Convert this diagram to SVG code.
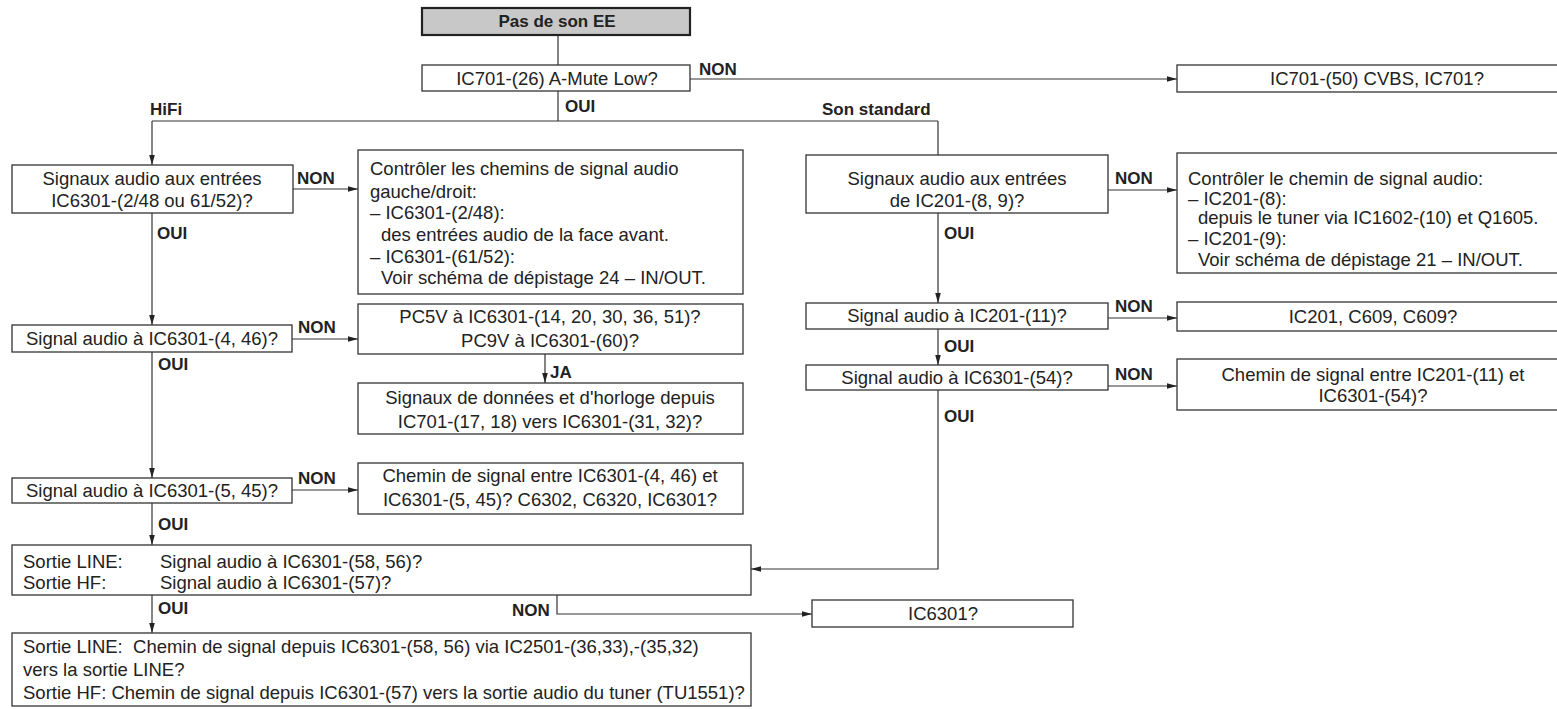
<svg xmlns="http://www.w3.org/2000/svg" width="1557" height="709" viewBox="0 0 1557 709">
<style>
.box{fill:#fff;stroke:#333;stroke-width:1.3}
.start{fill:#c8c8c8;stroke:#222;stroke-width:2.2}
.t{font-family:"Liberation Sans",Arial,sans-serif;font-size:18.5px;fill:#222}
.c{text-anchor:middle}
.b{font-weight:bold;font-size:17px}
.ln{fill:none;stroke:#333;stroke-width:1.2}
</style>
<defs>
<marker id="ah" markerWidth="10" markerHeight="8" refX="10" refY="4" orient="auto" markerUnits="userSpaceOnUse">
<path d="M0,1.2 L10,4 L0,6.8 Z" fill="#222"/>
</marker>
</defs>
<rect width="1557" height="709" fill="#fff"/>

<g id="connectors">
<path class="ln" d="M558,35 V65"/>
<path class="ln" d="M690,79 H1177" marker-end="url(#ah)"/>
<path class="ln" d="M558,91 V121"/>
<path class="ln" d="M152,121 H938"/>
<path class="ln" d="M152,121 V165" marker-end="url(#ah)"/>
<path class="ln" d="M938,121 V155"/>
<path class="ln" d="M293,189 H358" marker-end="url(#ah)"/>
<path class="ln" d="M152,213 V325" marker-end="url(#ah)"/>
<path class="ln" d="M292,339 H358" marker-end="url(#ah)"/>
<path class="ln" d="M545,354 V383" marker-end="url(#ah)"/>
<path class="ln" d="M152,352 V478" marker-end="url(#ah)"/>
<path class="ln" d="M292,490 H358" marker-end="url(#ah)"/>
<path class="ln" d="M152,503 V545" marker-end="url(#ah)"/>
<path class="ln" d="M152,595 V633" marker-end="url(#ah)"/>
<path class="ln" d="M557,595 V614 H812" marker-end="url(#ah)"/>
<path class="ln" d="M1108,190 H1177" marker-end="url(#ah)"/>
<path class="ln" d="M938,213 V303" marker-end="url(#ah)"/>
<path class="ln" d="M1108,318 H1177" marker-end="url(#ah)"/>
<path class="ln" d="M938,329 V365" marker-end="url(#ah)"/>
<path class="ln" d="M1108,386 H1177" marker-end="url(#ah)"/>
<path class="ln" d="M938,390 V569 H751" marker-end="url(#ah)"/>
<text class="t b" x="699" y="75">NON</text>
<text class="t b" x="565" y="112">OUI</text>
<text class="t b" x="150" y="115">HiFi</text>
<text class="t b" x="822" y="115">Son standard</text>
<text class="t b" x="297" y="184">NON</text>
<text class="t b" x="157" y="239">OUI</text>
<text class="t b" x="298" y="333">NON</text>
<text class="t b" x="158" y="370">OUI</text>
<text class="t b" x="550" y="378">JA</text>
<text class="t b" x="298" y="484">NON</text>
<text class="t b" x="158" y="530">OUI</text>
<text class="t b" x="158" y="614">OUI</text>
<text class="t b" x="512" y="616">NON</text>
<text class="t b" x="1115" y="184">NON</text>
<text class="t b" x="944" y="239">OUI</text>
<text class="t b" x="1115" y="312">NON</text>
<text class="t b" x="944" y="352">OUI</text>
<text class="t b" x="1115" y="380">NON</text>
<text class="t b" x="944" y="422">OUI</text>
</g>

<g id="start">
<rect class="start" x="422" y="8" width="268" height="27"/>
<text class="t c b" x="557" y="27">Pas de son EE</text>
</g>

<g id="q_mute">
<rect class="box" x="422" y="65" width="268" height="26"/>
<text class="t c" x="557" y="85">IC701-(26) A-Mute Low?</text>
</g>

<g id="r_cvbs">
<rect class="box" x="1177" y="65" width="395" height="27"/>
<text class="t c" x="1377" y="85">IC701-(50) CVBS, IC701?</text>
</g>

<g id="q_hifi_in">
<rect class="box" x="12" y="165" width="281" height="48"/>
<text class="t c" x="152" y="185">Signaux audio aux entrées</text>
<text class="t c" x="152" y="207">IC6301-(2/48 ou 61/52)?</text>
</g>

<g id="r_hifi_in">
<rect class="box" x="358" y="150" width="385" height="144"/>
<text class="t" x="370" y="175">Contrôler les chemins de signal audio</text>
<text class="t" x="370" y="198">gauche/droit:</text>
<text class="t" x="370" y="219">– IC6301-(2/48):</text>
<text class="t" x="381" y="241">des entrées audio de la face avant.</text>
<text class="t" x="370" y="263">– IC6301-(61/52):</text>
<text class="t" x="381" y="284">Voir schéma de dépistage 24 – IN/OUT.</text>
</g>

<g id="q_446">
<rect class="box" x="12" y="325" width="280" height="27"/>
<text class="t c" x="152" y="345">Signal audio à IC6301-(4, 46)?</text>
</g>

<g id="r_pc5v">
<rect class="box" x="358" y="304" width="385" height="50"/>
<text class="t c" x="550" y="323">PC5V à IC6301-(14, 20, 30, 36, 51)?</text>
<text class="t c" x="550" y="347">PC9V à IC6301-(60)?</text>
</g>

<g id="r_data">
<rect class="box" x="358" y="383" width="385" height="51"/>
<text class="t c" x="550" y="404">Signaux de données et d'horloge depuis</text>
<text class="t c" x="550" y="428">IC701-(17, 18) vers IC6301-(31, 32)?</text>
</g>

<g id="q_545">
<rect class="box" x="12" y="478" width="280" height="25"/>
<text class="t c" x="152" y="497">Signal audio à IC6301-(5, 45)?</text>
</g>

<g id="r_path545">
<rect class="box" x="358" y="463" width="385" height="51"/>
<text class="t c" x="550" y="482">Chemin de signal entre IC6301-(4, 46) et</text>
<text class="t c" x="550" y="506">IC6301-(5, 45)? C6302, C6320, IC6301?</text>
</g>

<g id="q_out">
<rect class="box" x="12" y="545" width="739" height="50"/>
<text class="t" x="23" y="568">Sortie LINE:</text>
<text class="t" x="160" y="568">Signal audio à IC6301-(58, 56)?</text>
<text class="t" x="23" y="589">Sortie HF:</text>
<text class="t" x="160" y="589">Signal audio à IC6301-(57)?</text>
</g>

<g id="r_ic6301">
<rect class="box" x="812" y="600" width="261" height="27"/>
<text class="t c" x="943" y="620">IC6301?</text>
</g>

<g id="r_final">
<rect class="box" x="12" y="633" width="739" height="73"/>
<text class="t" x="23" y="653" xml:space="preserve">Sortie LINE:  Chemin de signal depuis IC6301-(58, 56) via IC2501-(36,33),-(35,32)</text>
<text class="t" x="23" y="676">vers la sortie LINE?</text>
<text class="t" x="23" y="699">Sortie HF: Chemin de signal depuis IC6301-(57) vers la sortie audio du tuner (TU1551)?</text>
</g>

<g id="q_std_in">
<rect class="box" x="806" y="155" width="302" height="58"/>
<text class="t c" x="957" y="185">Signaux audio aux entrées</text>
<text class="t c" x="957" y="207">de IC201-(8, 9)?</text>
</g>

<g id="r_std_in">
<rect class="box" x="1177" y="153" width="395" height="120"/>
<text class="t" x="1188" y="185">Contrôler le chemin de signal audio:</text>
<text class="t" x="1188" y="205">– IC201-(8):</text>
<text class="t" x="1198" y="224">depuis le tuner via IC1602-(10) et Q1605.</text>
<text class="t" x="1188" y="245">– IC201-(9):</text>
<text class="t" x="1198" y="266">Voir schéma de dépistage 21 – IN/OUT.</text>
</g>

<g id="q_201_11">
<rect class="box" x="806" y="303" width="302" height="26"/>
<text class="t c" x="957" y="322">Signal audio à IC201-(11)?</text>
</g>

<g id="r_201">
<rect class="box" x="1177" y="302" width="395" height="29"/>
<text class="t c" x="1373" y="323">IC201, C609, C609?</text>
</g>

<g id="q_54">
<rect class="box" x="806" y="365" width="302" height="25"/>
<text class="t c" x="957" y="384">Signal audio à IC6301-(54)?</text>
</g>

<g id="r_path54">
<rect class="box" x="1177" y="359" width="395" height="51"/>
<text class="t c" x="1373" y="381">Chemin de signal entre IC201-(11) et</text>
<text class="t c" x="1373" y="402">IC6301-(54)?</text>
</g>
</svg>
